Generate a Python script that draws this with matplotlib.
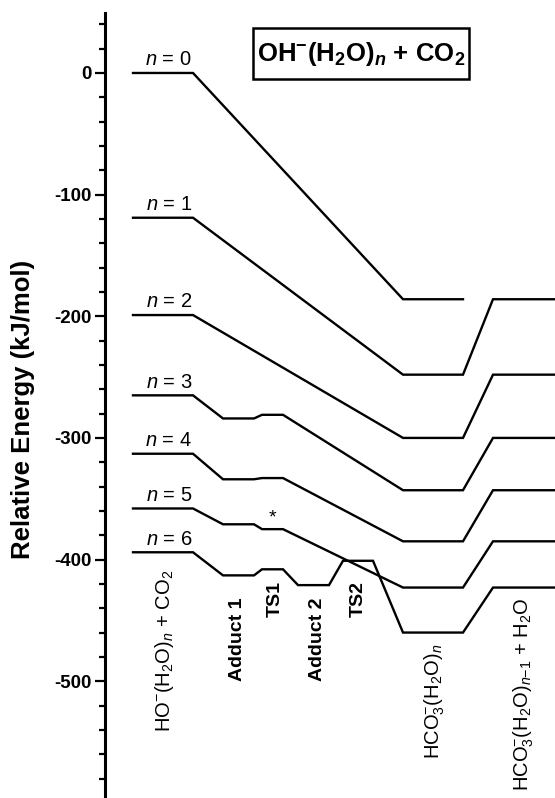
import numpy as np
import matplotlib
matplotlib.use('Agg')
import matplotlib.pyplot as plt
from matplotlib.patches import Rectangle
from matplotlib.ticker import MultipleLocator

# ------------------------------------------------------------
# Data: relative energies (kJ/mol) per cluster size n
# stages: reactant, adduct 1, TS1, adduct 2, TS2, HCO3-(H2O)n, HCO3-(H2O)n-1 + H2O
# ------------------------------------------------------------
nan = np.nan
cluster_n = [0, 1, 2, 3, 4, 5, 6]
e_n0 = [0, nan, nan, nan, nan, -186, nan]
e_n1 = [-119, nan, nan, nan, nan, -248, -186]
e_n2 = [-199, nan, nan, nan, nan, -300, -248]
e_n3 = [-265, -284, -281, nan, nan, -343, -300]
e_n4 = [-313, -334, -333, nan, nan, -385, -343]
e_n5 = [-358, -371, -375, nan, nan, -423, -385]
e_n6 = [-394, -413, -408, -421, -401, -460, -423]
energies = [e_n0, e_n1, e_n2, e_n3, e_n4, e_n5, e_n6]

stage_labels = [r'HO$^{-}$(H$_2$O)$_{n}$ + CO$_2$', 'Adduct 1', 'TS1', 'Adduct 2', 'TS2',
                r'HCO$_3^{-}$(H$_2$O)$_{n}$', r'HCO$_3^{-}$(H$_2$O)$_{n{-}1}$ + H$_2$O']
ytick_values = [0, -100, -200, -300, -400, -500]

# layout (x in pixel-like units of the original drawing)
stage_left = [133, 223, 262, 298, 343, 403, 493]
stage_right = [193, 254, 283, 329, 373, 463, 555]

plt.rcParams.update({
    'font.family': ['Liberation Sans', 'DejaVu Sans'],
    'mathtext.fontset': 'custom',
    'mathtext.rm': 'Liberation Sans',
    'mathtext.it': 'Liberation Sans:italic',
    'mathtext.bf': 'Liberation Sans:bold',
    'mathtext.bfit': 'Liberation Sans:bold:italic',
    'axes.unicode_minus': False,
})

fig = plt.figure(figsize=(5.55, 7.98), dpi=100)
ax = fig.add_axes([105 / 555, 0.0, 450 / 555, 1 - 13 / 798])

for n, e in zip(cluster_n, energies):
    xs, ys = [], []
    for xl, xr, val in zip(stage_left, stage_right, e):
        if np.isnan(val):
            continue
        xs += [xl, xr]
        ys += [val, val]
    ax.plot(xs, ys, color='black', lw=1.7, solid_joinstyle='miter', clip_on=False)
    ax.text(192, e[0] + 3, rf'$n$ = {n}', ha='right', va='bottom', fontsize=14.5)

# asterisk near n = 5 TS1
ax.text(272, -366, '*', ha='center', va='center', fontsize=14)

# stage labels (rotated)
label_x = [165, 238, 275, 317, 358, 435, 524]
label_top = [-408, -431, -418, -431, -418, -469, -431]
label_bold = [False, True, True, True, True, False, False]
for txt, lx, lt, b in zip(stage_labels, label_x, label_top, label_bold):
    ax.text(lx, lt, txt, rotation=90, ha='center', va='top',
            fontsize=14 if b else 14.5, fontweight='bold' if b else 'normal')

# title box
fig.patches.append(Rectangle((253 / 555, 1 - 79 / 798), 216 / 555, 51 / 798,
                             transform=fig.transFigure, facecolor='white',
                             edgecolor='black', linewidth=1.8))
fig.text(361 / 555, 1 - 54 / 798,
         r'OH$^{\mathbf{-}}$(H$_{\mathbf{2}}$O)$_{\mathbfit{n}}$ + CO$_{\mathbf{2}}$',
         ha='center', va='center', fontsize=18.5, fontweight='bold')

ax.set_xlim(105, 555)
ax.set_ylim(-596, 49.3)
for s in ['top', 'right', 'bottom']:
    ax.spines[s].set_visible(False)
ax.spines['left'].set_linewidth(2.2)
ax.set_xticks([])
ax.set_yticks(ytick_values)
ax.set_yticklabels([str(v) for v in ytick_values], fontsize=13.5, fontweight='bold')
ax.yaxis.set_minor_locator(MultipleLocator(20))
ax.tick_params(axis='y', which='major', length=7.5, width=1.6, pad=2)
ax.tick_params(axis='y', which='minor', length=4, width=1.6)

fig.text(23 / 555, 1 - 409 / 798, 'Relative Energy (kJ/mol)', rotation=90,
         ha='center', va='center', fontsize=18.5, fontweight='bold')

fig.savefig('out.png', dpi=100, facecolor='white')
